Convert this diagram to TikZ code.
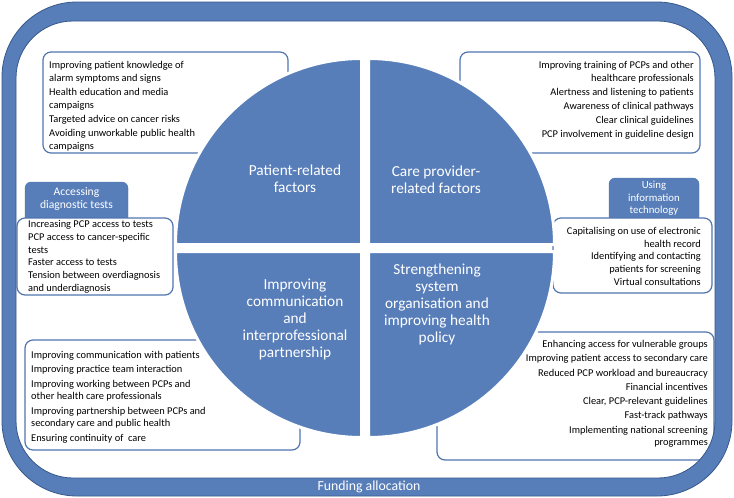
\documentclass[tikz,border=0pt]{standalone}
\usepackage{fontspec}
\setmainfont{Carlito}
\usepackage{tikz}

\definecolor{qblue}{RGB}{88,126,186}
\definecolor{boxblue}{RGB}{80,117,175}
\definecolor{frameedge}{RGB}{55,88,138}

\begin{document}
\begin{tikzpicture}
[x=1pt,y=-1pt,
listbox/.style={draw=boxblue,line width=1.2pt,fill=white,rounded corners=8pt,inner sep=0pt},
tagbox/.style={fill=qblue,draw=boxblue,rounded corners=6pt,inner sep=0pt},
tagtext/.style={text=white,align=center,inner sep=0pt},
itemtext/.style={font=\fontsize{10.4}{12.7}\selectfont,inner sep=0pt},
quad/.style={fill=qblue,draw=white,line width=3pt},
quadtext/.style={text=white,align=center,font=\fontsize{15.3}{17}\selectfont,inner sep=0pt}]

\useasboundingbox (0,0) rectangle (734,498);

\node[tagbox,minimum width=103,minimum height=42] (testtag) at (76.5,203) {};
\node[tagtext,font=\fontsize{11.6}{13}\selectfont] (testlbl) at (76.5,199.5) {Accessing\\diagnostic tests};

\node[tagbox,minimum width=90,minimum height=50] (ittag) at (654,203) {};
\node[tagtext,font=\fontsize{10.8}{12.7}\selectfont] (itlbl) at (654,198.5) {Using\\information\\technology};

\node[listbox,minimum width=245,minimum height=101] (patbox) at (165.5,102.5) {};
\node[listbox,minimum width=240,minimum height=101] (carebox) at (580,102.5) {};
\node[listbox,minimum width=156,minimum height=77] (testbox) at (95,256.5) {};
\node[listbox,minimum width=159,minimum height=75] (itbox) at (632.5,255.5) {};
\node[listbox,minimum width=275,minimum height=110] (commbox) at (162.5,395) {};
\node[listbox,minimum width=277,minimum height=128] (sysbox) at (575.5,396) {};

\node[itemtext,anchor=north west,align=left] (pattext) at (49,61)
  {Improving patient knowledge of\\alarm symptoms and signs\\[1.5pt]
   Health education and media\\campaigns\\[1.5pt]
   Targeted advice on cancer risks\\[1.5pt]
   Avoiding unworkable public health\\campaigns};
\node[itemtext,anchor=north east,align=right] (caretext) at (694,61)
  {Improving training of PCPs and other\\healthcare professionals\\[1.5pt]
   Alertness and listening to patients\\[1.5pt]
   Awareness of clinical pathways\\[1.5pt]
   Clear clinical guidelines\\[1.5pt]
   PCP involvement in guideline design};
\node[itemtext,anchor=north west,align=left] (testtext) at (28,220.5)
  {Increasing PCP access to tests\\PCP access to cancer-specific\\tests\\
   Faster access to tests\\Tension between overdiagnosis\\and underdiagnosis};
\node[itemtext,anchor=north east,align=right] (ittext) at (701,227)
  {Capitalising on use of electronic\\health record\\
   Identifying and contacting\\patients for screening\\Virtual consultations};
\node[itemtext,anchor=north west,align=left] (commtext) at (31,351)
  {Improving communication with patients\\[1.6pt]
   Improving practice team interaction\\[1.6pt]
   Improving working between PCPs and\\other health care professionals\\[1.6pt]
   Improving partnership between PCPs and\\secondary care and public health\\[1.6pt]
   Ensuring continuity of\ \ care};
\node[itemtext,anchor=north east,align=right] (systext) at (708,340)
  {Enhancing access for vulnerable groups\\[1.6pt]
   Improving patient access to secondary care\\[1.6pt]
   Reduced PCP workload and bureaucracy\\[1.6pt]
   Financial incentives\\[1.6pt]
   Clear, PCP-relevant guidelines\\[1.6pt]
   Fast-track pathways\\[1.6pt]
   Implementing national screening\\programmes};

\path[quad] (361.5,244.5) -- (175.5,244.5) arc[start angle=180,end angle=90,radius=186pt] -- cycle;
\path[quad] (368.5,244.5) -- (368.5,58.5) arc[start angle=90,end angle=0,radius=186pt] -- cycle;
\path[quad] (368.5,251.5) -- (554.5,251.5) arc[start angle=0,end angle=-90,radius=186pt] -- cycle;
\path[quad] (361.5,251.5) -- (361.5,437.5) arc[start angle=270,end angle=180,radius=186pt] -- cycle;

\node[quadtext] (pattitle) at (295,178.5) {Patient-related\\factors};
\node[quadtext] (caretitle) at (436,180) {Care provider-\\related factors};
\node[quadtext] (commtitle) at (295,319) {Improving\\communication\\and\\interprofessional\\partnership};
\node[quadtext] (systitle) at (437,304) {Strengthening\\system\\organisation and\\improving health\\policy};

\path[fill=qblue,draw=frameedge,line width=0.8pt,even odd rule,rounded corners=75pt]
  (2,2) rectangle (732,496) [rounded corners=57pt] (16,21) rectangle (715,478);

\node[text=white,font=\fontsize{13.8}{15}\selectfont,inner sep=0pt] (funding) at (369,487) {Funding allocation};
\end{tikzpicture}
\end{document}
